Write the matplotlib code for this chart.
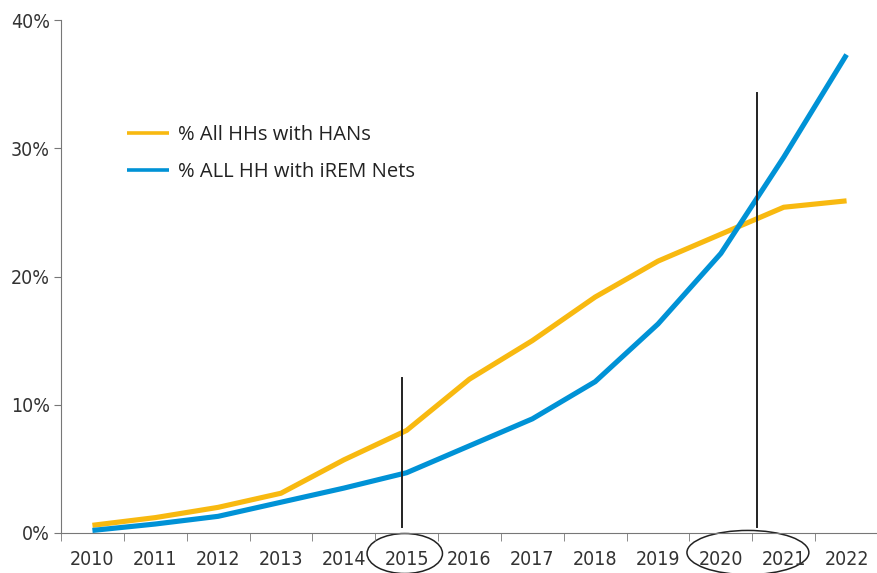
import matplotlib
matplotlib.use("Agg")
import matplotlib.pyplot as plt
from matplotlib.patches import Ellipse
from matplotlib.transforms import blended_transform_factory

# data (percent of households)
years = ['2010', '2011', '2012', '2013', '2014', '2015', '2016',
         '2017', '2018', '2019', '2020', '2021', '2022']
han_pct = [0.6, 1.2, 2.0, 3.1, 5.7, 8.0, 12.0, 15.0, 18.4, 21.2, 23.3, 25.4, 25.9]
irem_pct = [0.2, 0.7, 1.3, 2.4, 3.5, 4.7, 6.8, 8.9, 11.8, 16.3, 21.8, 29.3, 37.3]
yticks = [0, 10, 20, 30, 40]
ytick_labels = ['0%', '10%', '20%', '30%', '40%']

# marker lines (position on category axis, top in percent)
marker_x = [4.92, 10.57]
marker_top = [12.1, 34.3]

yellow = '#F8B910'
blue = '#0092D6'

plt.rcParams['font.family'] = ['DejaVu Sans']

fig = plt.figure(figsize=(8.78, 5.73), dpi=100)
ax = fig.add_axes([61/878, 40/573, 817/878, 513/573])

x = list(range(len(years)))
ax.plot(x, han_pct, color=yellow, lw=3.7, solid_capstyle='butt', label='% All HHs with HANs')
ax.plot(x, irem_pct, color=blue, lw=3.7, solid_capstyle='butt', label='% ALL HH with iREM Nets')

for mx, mt in zip(marker_x, marker_top):
    ax.plot([mx, mx], [0.5, mt], color='#222222', lw=1.4)

ax.set_xlim(-0.5, 12.5)
ax.set_ylim(0, 40)
ax.set_yticks(yticks)
ax.set_yticklabels(ytick_labels, fontsize=14, color='#333333', fontstretch='condensed')
ax.set_xticks(x)
ax.set_xticklabels(years, fontsize=14, color='#333333', fontstretch='condensed')
ax.set_xticks([i - 0.5 for i in range(len(years) + 1)], minor=True)
ax.tick_params(axis='x', which='major', length=0, pad=12)
ax.tick_params(axis='x', which='minor', length=6, color='#777777')
ax.tick_params(axis='y', length=5, color='#777777', pad=3)

for s in ['top', 'right']:
    ax.spines[s].set_visible(False)
ax.spines['left'].set_color('#777777')
ax.spines['bottom'].set_color('#777777')

# circles round the highlighted years
tr = blended_transform_factory(ax.transData, ax.transAxes)
ax.add_patch(Ellipse((4.97, -0.04), 1.2, 0.078, transform=tr, fill=False,
                     edgecolor='#222222', lw=1.1, clip_on=False))
ax.add_patch(Ellipse((10.43, -0.038), 1.94, 0.086, transform=tr, fill=False,
                     edgecolor='#222222', lw=1.1, clip_on=False))

leg = ax.legend(loc='upper left', bbox_to_anchor=(0.058, 0.83), frameon=False,
                handlelength=2.1, handletextpad=0.45, labelspacing=0.85,
                prop={'family': ['Open Sans', 'DejaVu Sans'], 'size': 14.5})
for h in leg.legend_handles:
    h.set_linewidth(2.6)
for t in leg.get_texts():
    t.set_color('#222222')

fig.savefig('out.png', dpi=100)
